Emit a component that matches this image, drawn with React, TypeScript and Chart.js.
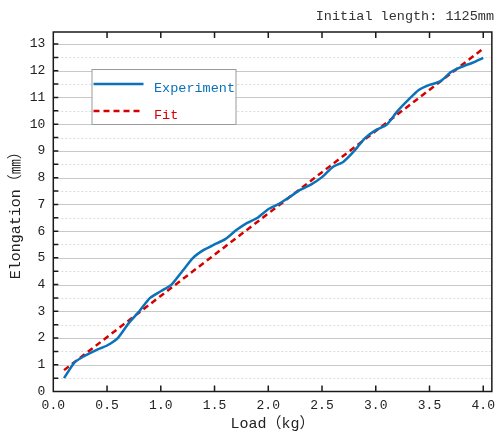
import React, { useEffect, useRef } from "react";
import { Chart, registerables } from "chart.js";

Chart.register(...registerables);

// ---- data ----
const loads = [0.1, 0.2, 0.3, 0.4, 0.5, 0.6, 0.7, 0.8, 0.9, 1.0, 1.1, 1.2, 1.3, 1.4, 1.5, 1.6, 1.7, 1.8, 1.9, 2.0, 2.1, 2.2, 2.3, 2.4, 2.5, 2.6, 2.7, 2.8, 2.9, 3.0, 3.1, 3.2, 3.3, 3.4, 3.5, 3.6, 3.7, 3.8, 3.9, 4.0];
const elongations = [0.5, 1.1, 1.35, 1.55, 1.72, 2.0, 2.55, 3.0, 3.5, 3.75, 4.0, 4.5, 5.0, 5.3, 5.5, 5.7, 6.03, 6.3, 6.5, 6.82, 7.02, 7.28, 7.55, 7.75, 8.02, 8.4, 8.6, 9.0, 9.48, 9.78, 9.98, 10.48, 10.9, 11.28, 11.47, 11.6, 11.95, 12.15, 12.3, 12.48];
const fitLoads = [0.1, 4.0];
const fitElongations = [0.8, 12.83];
const seriesNames = ["Experiment", "Fit"];
const titleText = "Initial length: 1125mm";
const xAxisTitle = "Load（kg）";
const yAxisTitle = "Elongation（㎜）";

const BLUE = "#0a72b8";
const RED = "#d60000";
const FONT = "'Liberation Mono', 'Noto Sans CJK SC', monospace";

const decorPlugin = {
  id: "decor",
  beforeDatasetsDraw(chart: any) {
    const { ctx, chartArea: a, scales } = chart;
    const y = scales.y;
    ctx.save();
    ctx.lineWidth = 1;
    y.ticks.forEach((t: any) => {
      const v = t.value;
      if (v > 0) {
        const py = Math.round(y.getPixelForValue(v)) + 0.5;
        ctx.strokeStyle = "#c8c8c8";
        ctx.setLineDash([]);
        ctx.beginPath();
        ctx.moveTo(a.left, py);
        ctx.lineTo(a.right, py);
        ctx.stroke();
      }
      const h = v + 0.5;
      if (h < y.max) {
        const py = Math.round(y.getPixelForValue(h)) + 0.5;
        ctx.strokeStyle = "#dcdcdc";
        ctx.setLineDash([2, 2]);
        ctx.beginPath();
        ctx.moveTo(a.left, py);
        ctx.lineTo(a.right, py);
        ctx.stroke();
      }
    });
    ctx.restore();
  },
  afterDatasetsDraw(chart: any) {
    const { ctx, chartArea: a, scales } = chart;
    const x = scales.x;
    const y = scales.y;
    ctx.save();
    ctx.setLineDash([]);
    ctx.strokeStyle = "#1a1a1a";
    ctx.lineWidth = 1.5;
    // frame
    ctx.strokeRect(a.left, a.top, a.right - a.left, a.bottom - a.top);
    // ticks
    ctx.beginPath();
    y.ticks.forEach((t: any) => {
      [t.value, t.value + 0.5].forEach((v) => {
        if (v > 0 && v < y.max) {
          const py = y.getPixelForValue(v);
          ctx.moveTo(a.left, py);
          ctx.lineTo(a.left + 5, py);
        }
      });
    });
    x.ticks.forEach((t: any) => {
      const v = t.value;
      if (v > 0 && v < x.max) {
        const px = x.getPixelForValue(v);
        ctx.moveTo(px, a.bottom);
        ctx.lineTo(px, a.bottom - 6);
        ctx.moveTo(px, a.top);
        ctx.lineTo(px, a.top + 6);
      }
    });
    ctx.stroke();

    // legend
    const lx = 92, ly = 69.5, lw = 144, lh = 55;
    ctx.fillStyle = "#ffffff";
    ctx.fillRect(lx, ly, lw, lh);
    ctx.strokeStyle = "#9a9a9a";
    ctx.lineWidth = 1;
    ctx.strokeRect(lx, ly, lw, lh);
    const ds = chart.data.datasets;
    const rows = [84, 111];
    ds.forEach((d: any, i: number) => {
      ctx.strokeStyle = d.borderColor;
      ctx.lineWidth = d.borderWidth;
      ctx.setLineDash(d.borderDash || []);
      ctx.beginPath();
      ctx.moveTo(93.5, rows[i]);
      ctx.lineTo(143.5, rows[i]);
      ctx.stroke();
      ctx.setLineDash([]);
      ctx.fillStyle = d.borderColor;
      ctx.font = "13.5px " + FONT;
      ctx.textAlign = "left";
      ctx.textBaseline = "middle";
      ctx.fillText(d.label, 154, rows[i] + 4);
    });

    // header text
    ctx.fillStyle = "#333333";
    ctx.font = "13.5px " + FONT;
    ctx.textAlign = "right";
    ctx.textBaseline = "middle";
    ctx.fillText(titleText, 494, 16.5);
    ctx.restore();
  },
};

export default function App() {
  const ref = useRef<HTMLCanvasElement | null>(null);
  useEffect(() => {
    if (!ref.current) return;
    const chart = new Chart(ref.current, {
      type: "line",
      data: {
        datasets: [
          {
            label: seriesNames[0],
            data: loads.map((l, i) => ({ x: l, y: elongations[i] })),
            borderColor: BLUE,
            backgroundColor: BLUE,
            borderWidth: 2.5,
            pointRadius: 0,
            tension: 0.2,
          },
          {
            label: seriesNames[1],
            data: fitLoads.map((l, i) => ({ x: l, y: fitElongations[i] })),
            borderColor: RED,
            backgroundColor: RED,
            borderWidth: 2.5,
            borderDash: [6, 4],
            pointRadius: 0,
          },
        ],
      },
      options: {
        responsive: false,
        animation: false,
        layout: { padding: { top: 32, right: 2.5, left: 0, bottom: 0 } },
        plugins: {
          legend: { display: false },
          title: { display: false },
          tooltip: { enabled: false },
        },
        scales: {
          x: {
            type: "linear",
            min: 0,
            max: 4.08,
            grid: { display: false, drawTicks: false },
            border: { display: false },
            ticks: {
              stepSize: 0.5,
              includeBounds: false,
              padding: 6,
              color: "#222",
              font: { family: FONT, size: 13 },
              callback: (v: any) => Number(v).toFixed(1),
              maxRotation: 0,
            },
            title: {
              display: true,
              text: xAxisTitle,
              color: "#222",
              font: { family: FONT, size: 15 },
              padding: { top: 0, bottom: 6 },
            },
            afterFit: (s: any) => {
              s.height = 47.5;
            },
          },
          y: {
            type: "linear",
            min: 0,
            max: 13.45,
            grid: { display: false, drawTicks: false },
            border: { display: false },
            ticks: {
              stepSize: 1,
              includeBounds: false,
              padding: 8,
              color: "#222",
              font: { family: FONT, size: 13 },
            },
            title: {
              display: true,
              text: yAxisTitle,
              color: "#222",
              font: { family: FONT, size: 15 },
              padding: { top: 7.5, bottom: 0 },
            },
            afterFit: (s: any) => {
              s.width = 53.3;
            },
          },
        },
      },
      plugins: [decorPlugin],
    });
    return () => chart.destroy();
  }, []);
  return (
    <div style={{ position: "fixed", left: 0, top: 0, width: 501, height: 439, background: "#fff" }}>
      <canvas ref={ref} width={501} height={439} style={{ display: "block" }} />
    </div>
  );
}
